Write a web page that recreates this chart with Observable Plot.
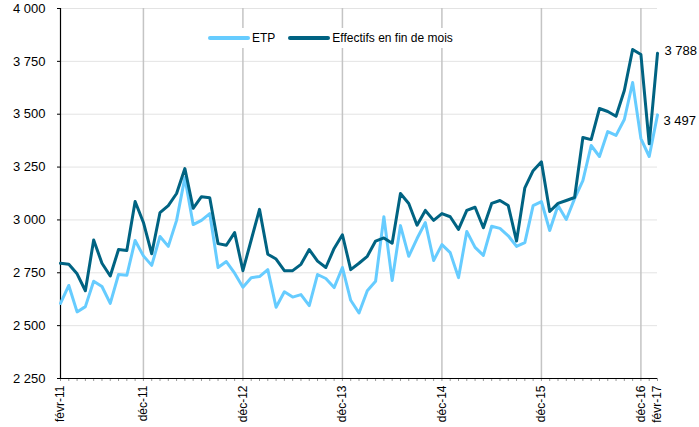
<!DOCTYPE html>
<html>
<head>
<meta charset="utf-8">
<script src="https://cdn.jsdelivr.net/npm/d3@7"></script>
<script src="https://cdn.jsdelivr.net/npm/@observablehq/plot@0.6"></script>
<style>
  html, body { margin: 0; padding: 0; background: #fff; }
  #wrap { position: relative; width: 699px; height: 427px; font-family: "Liberation Sans", Arial, sans-serif; }
  #legend { position: absolute; left: 208px; top: 28px; height: 20px; width: 262px; background: #fff;
            display: flex; align-items: center; font-size: 12px; color: #000; }
  .sw { display: inline-block; width: 42px; height: 4px; border-radius: 2px; margin-right: 2px; }
</style>
</head>
<body>
<div id="wrap"><div id="legend"></div></div>
<script>
// Month index 0 = févr-11 ... 72 = févr-17
const seriesNames = ["ETP", "Effectifs en fin de mois"];
const seriesColors = ["#66ccff", "#006382"];

const etp = [
  2605, 2690, 2565, 2590, 2710, 2685, 2605, 2742, 2738, 2903,
  2830, 2785, 2922, 2875, 2998, 3200, 2978, 2998, 3030, 2775,
  2803, 2748, 2682, 2727, 2732, 2765, 2587, 2660, 2635, 2647,
  2595, 2742, 2723, 2680, 2775, 2620, 2560, 2665, 2710, 3015,
  2713, 2973, 2828, 2912, 2988, 2808, 2883, 2845, 2727, 2945,
  2870, 2832, 2970, 2960, 2925, 2875, 2893, 3068, 3087, 2950,
  3068, 3002, 3101, 3186, 3352, 3300, 3418, 3400, 3475, 3650,
  3385, 3300, 3497
];
const effectifs = [
  2795, 2790, 2745, 2665, 2905, 2795, 2735, 2860, 2855, 3087,
  2988, 2840, 3035, 3068, 3125, 3243, 3055, 3110, 3105, 2888,
  2880, 2940, 2760, 2905, 3050, 2838, 2815, 2760, 2760, 2790,
  2860, 2805, 2775, 2865, 2930, 2765, 2795, 2828, 2900, 2915,
  2890, 3125, 3078, 2975, 3045, 2998, 3030, 3015, 2955, 3045,
  3060, 2963, 3078, 3092, 3068, 2900, 3152, 3233, 3275, 3040,
  3078, 3092, 3106, 3390, 3380, 3527, 3513, 3490, 3612, 3806,
  3782, 3360, 3788
];

const tickIndex = [0, 10, 22, 34, 46, 58, 70, 72];
const tickLabels = ["févr-11", "déc-11", "déc-12", "déc-13", "déc-14", "déc-15", "déc-16", "févr-17"];
const gridIndex = [10, 22, 34, 46, 58, 70];
const yTicks = [2250, 2500, 2750, 3000, 3250, 3500, 3750, 4000];

const fr = d3.formatLocale({decimal: ",", thousands: " ", grouping: [3], currency: ["", " €"]});
const fmt = fr.format(",");

const labelMap = new Map(tickIndex.map((t, i) => [t, tickLabels[i]]));
const months = d3.range(etp.length);

const rows = [];
[etp, effectifs].forEach((arr, s) => arr.forEach((v, i) => rows.push({i, v, s: seriesNames[s]})));
const lastEtp = [{i: etp.length - 1, v: etp[etp.length - 1]}];
const lastEff = [{i: effectifs.length - 1, v: effectifs[effectifs.length - 1]}];

const chart = Plot.plot({
  width: 699,
  height: 427,
  marginLeft: 60,
  marginRight: 42,
  marginTop: 8,
  marginBottom: 49,
  style: {fontFamily: "Liberation Sans, Arial, sans-serif", fontSize: "12px", color: "#000", background: "#fff"},
  x: {domain: [0, 72]},
  y: {domain: [2250, 4000]},
  marks: [
    Plot.gridY(yTicks, {stroke: "#e3e3e3", strokeOpacity: 1, strokeWidth: 1}),
    Plot.gridX(gridIndex, {stroke: "#c4c4c4", strokeOpacity: 1, strokeWidth: 1.5}),
    Plot.axisY(yTicks, {tickSize: 3, tickPadding: 12, tickFormat: fmt, fontSize: 13, label: null, stroke: "#000"}),
    Plot.axisX(months, {tickSize: 3, tickPadding: 4, tickRotate: -90, tickFormat: i => labelMap.get(i) ?? "", label: null, fontSize: 12, stroke: "#999", fill: "#000"}),
    Plot.ruleX([0], {stroke: "#000", strokeWidth: 1.2}),
    Plot.ruleY([2250], {stroke: "#000", strokeWidth: 1.2}),
    Plot.line(rows.filter(d => d.s === seriesNames[0]), {x: "i", y: "v", stroke: seriesColors[0], strokeWidth: 3}),
    Plot.line(rows.filter(d => d.s === seriesNames[1]), {x: "i", y: "v", stroke: seriesColors[1], strokeWidth: 3}),
    Plot.text(lastEff, {x: "i", y: "v", text: d => fmt(d.v), textAnchor: "start", dx: 7, dy: -2, fontSize: 13, fill: "#000"}),
    Plot.text(lastEtp, {x: "i", y: "v", text: d => fmt(d.v), textAnchor: "start", dx: 6, dy: 6, fontSize: 13, fill: "#000"})
  ]
});
document.getElementById("wrap").prepend(chart);

const legend = document.getElementById("legend");
seriesNames.forEach((n, k) => {
  const item = document.createElement("span");
  item.style.display = "inline-flex";
  item.style.alignItems = "center";
  item.style.marginRight = "13px";
  item.innerHTML = `<span class="sw" style="background:${seriesColors[k]}"></span>${n}`;
  legend.appendChild(item);
});
</script>
</body>
</html>
